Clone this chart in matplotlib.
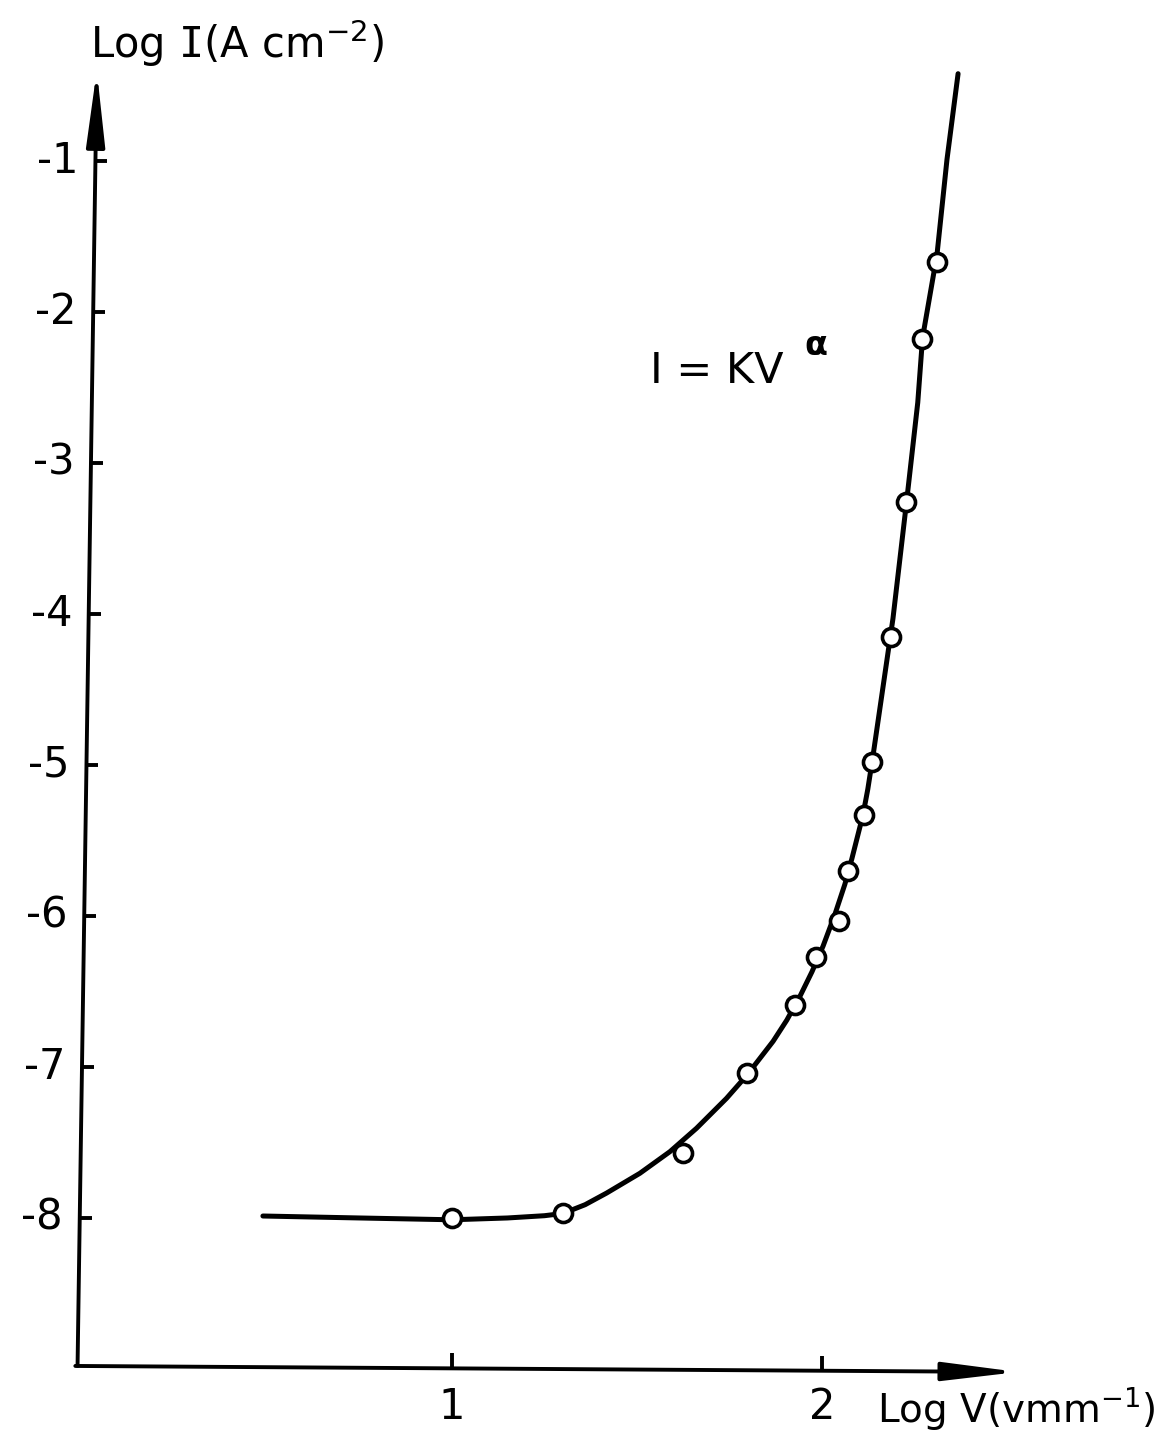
import matplotlib
matplotlib.use("Agg")
import matplotlib.pyplot as plt

# ---- data ----
# measured points (log V, log I)
meas_logV = [1.00, 1.30, 1.624, 1.797, 1.927, 1.984, 2.046, 2.070, 2.114, 2.135, 2.186, 2.227, 2.270, 2.311]
meas_logI = [-8.00, -7.97, -7.57, -7.04, -6.59, -6.27, -6.03, -5.70, -5.33, -4.98, -4.15, -3.26, -2.18, -1.67]

# hand-drawn fitted curve
curve_logV = [0.489, 0.75, 1.000, 1.150, 1.250, 1.300, 1.360, 1.418, 1.508, 1.589, 1.661,
              1.742, 1.797, 1.868, 1.905, 1.941, 1.973, 2.003, 2.035, 2.062, 2.081,
              2.111, 2.124, 2.138, 2.192, 2.230, 2.259, 2.272, 2.311, 2.338, 2.368]
curve_logI = [-7.987, -8.000, -8.012, -8.000, -7.985, -7.970, -7.912, -7.835, -7.704, -7.561, -7.406,
              -7.208, -7.055, -6.830, -6.690, -6.530, -6.370, -6.200, -5.990, -5.790, -5.620,
              -5.330, -5.160, -4.940, -4.030, -3.230, -2.600, -2.170, -1.620, -0.990, -0.422]

y_ticks = [-1, -2, -3, -4, -5, -6, -7, -8]
y_ticklabels = ["-1", "-2", "-3", "-4", "-5", "-6", "-7", "-8"]
x_ticks = [1, 2]
x_ticklabels = ["1", "2"]

ylabel = "Log $\\mathtt{I}$(A cm$^{-2}$)"
xlabel = "Log V(vmm$^{-1}$)"
formula_main = "I = KV"
formula_exp = "\u03b1"

plt.rcParams["font.family"] = ["DejaVu Sans"]
plt.rcParams["mathtext.default"] = "regular"
plt.rcParams["mathtext.fontset"] = "dejavusans"

fig = plt.figure(figsize=(11.76, 14.41), dpi=100)
ax = fig.add_axes([0, 0, 1, 1])
ax.set_xlim(-0.2216, 2.957)
ax.set_ylim(-9.477, 0.066)
ax.axis("off")

LW_AX = 2.8
FS = 30
ARROW = "-|>,head_length=1.13,head_width=0.14"

# y axis (slightly slanted like the hand drawing)
y_bot, y_top = -8.98, -0.40
x_bot, x_top = -0.012, 0.040
def axis_x(y):
    return x_bot + (x_top - x_bot) * (y - y_bot) / (y_top - y_bot)

ax.annotate("", xy=(x_top, y_top), xytext=(x_bot, y_bot),
            arrowprops=dict(arrowstyle=ARROW, lw=LW_AX, color="k",
                            mutation_scale=40, shrinkA=0, shrinkB=0))
for yt, lab in zip(y_ticks, y_ticklabels):
    xa = axis_x(yt)
    ax.plot([xa, xa + 0.032], [yt, yt], color="k", lw=LW_AX, solid_capstyle="butt")
    ax.text(xa - 0.045, yt, lab, ha="right", va="center", fontsize=FS)

# x axis
ax.annotate("", xy=(2.53, -9.02), xytext=(x_bot - 0.006, y_bot),
            arrowprops=dict(arrowstyle=ARROW, lw=LW_AX, color="k",
                            mutation_scale=40, shrinkA=0, shrinkB=0))
for xt, lab in zip(x_ticks, x_ticklabels):
    yb = -8.98 - 0.04 * xt / 2.5
    ax.plot([xt, xt], [yb, yb + 0.1], color="k", lw=LW_AX, solid_capstyle="butt")
    ax.text(xt, -9.25, lab, ha="center", va="center", fontsize=FS)

# axis labels
ax.text(0.022, -0.22, ylabel, ha="left", va="center", fontsize=FS)
ax.text(2.15, -9.26, xlabel, ha="left", va="center", fontsize=28)

# formula
ax.text(1.535, -2.39, formula_main, ha="left", va="center", fontsize=31)
ax.text(1.984, -2.22, formula_exp, ha="center", va="center", fontsize=24,
        fontweight="bold")

# curve and points
ax.plot(curve_logV, curve_logI, color="k", lw=3.6, solid_capstyle="round",
        solid_joinstyle="round", zorder=2)
ax.plot(meas_logV, meas_logI, linestyle="none", marker="o", markersize=13,
        markerfacecolor="white", markeredgecolor="k", markeredgewidth=2.6, zorder=3)

fig.savefig("out.png", dpi=100, facecolor="white")
